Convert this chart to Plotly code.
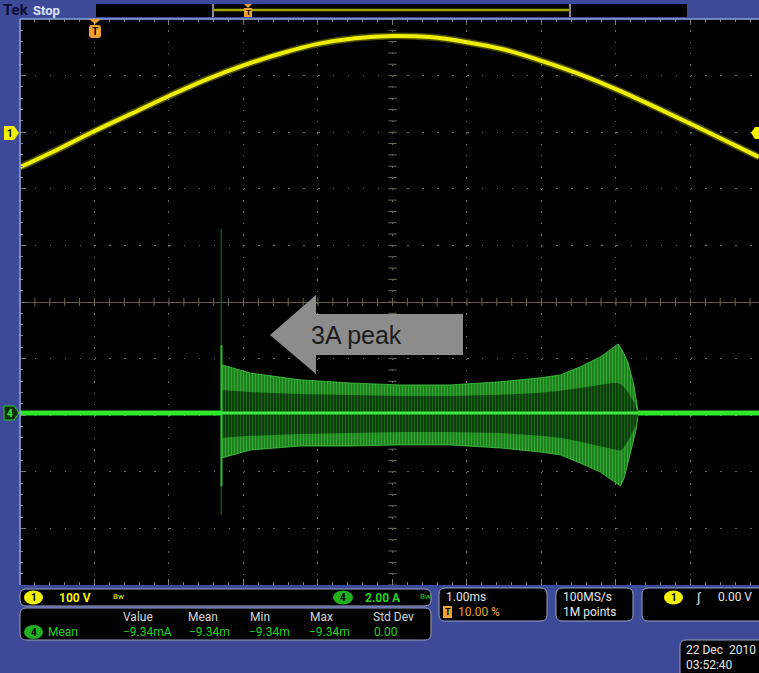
import numpy as np
import plotly.graph_objects as go

# ---------------- data ----------------
# Channel 1: line voltage (V), 100 V/div, position +3 div
ch1_t_ms = [-1.0, -0.5, 0.0, 0.5, 1.0, 1.5, 2.0, 2.5, 3.0, 3.5, 4.0, 4.5,
            5.0, 5.5, 6.0, 6.5, 7.0, 7.5, 8.0, 8.5, 8.92]
ch1_volts = [-62, -31, 2, 33, 64, 93, 118, 139, 156, 166, 170, 168,
             159, 146, 126, 103, 76, 46, 15, -17, -44]

# Channel 4: current (A), 2 A/div, position -1.96 div
ch4_idle_t_ms = [-1.0, 1.70, None, 7.30, 8.92]
ch4_idle_amps = [0.0, 0.0, None, 0.0, 0.0]
ch4_mid_t_ms = [1.70, 7.30]
ch4_mid_amps = [0.0, 0.0]

burst_up_t_ms = [1.71, 2.09, 2.76, 3.43, 4.10, 4.77, 5.45, 5.98, 6.25, 6.52,
                 6.79, 6.95, 7.03, 7.08, 7.16, 7.24, 7.30]
burst_up_amps = [1.70, 1.41, 1.17, 1.06, 0.99, 0.99, 1.10, 1.24, 1.34, 1.63,
                 1.98, 2.30, 2.44, 2.23, 1.80, 0.99, 0.0]
burst_lo_t_ms = [1.71, 2.09, 2.76, 3.43, 4.10, 4.77, 5.45, 5.98, 6.25, 6.52,
                 6.79, 6.95, 7.06, 7.11, 7.19, 7.27, 7.30]
burst_lo_amps = [-1.59, -1.31, -1.17, -1.17, -1.13, -1.13, -1.24, -1.38, -1.48, -1.77,
                 -2.09, -2.37, -2.58, -2.30, -1.48, -0.60, 0.0]
core_up_amps = [0.81, 0.74, 0.67, 0.64, 0.60, 0.60, 0.64, 0.71, 0.78, 0.88,
                0.99, 1.06, 1.06, 0.99, 0.74, 0.39, 0.0]
core_lo_amps = [-0.88, -0.81, -0.74, -0.71, -0.67, -0.67, -0.71, -0.81, -0.88, -1.02,
                -1.17, -1.27, -1.34, -1.20, -0.85, -0.42, 0.0]
spike_t_ms = [1.70, 1.70]
spike_amps = [6.5, -3.6]
spike_core_t_ms = [1.705, 1.705]
spike_core_amps = [2.4, -2.6]

# readouts
ch1_scale_text = "100 V"
ch4_scale_text = "2.00 A"
meas_headers = ["Value", "Mean", "Min", "Max", "Std Dev"]
meas_values = ["\u22129.34mA", "\u22129.34m", "\u22129.34m", "\u22129.34m", "0.00"]
timebase_text = "1.00ms"
trigpos_text = "10.00 %"
sample_texts = ["100MS/s", "1M points"]
trig_level_text = "0.00 V"
date_texts = ["22 Dec  2010", "03:52:40"]
note_text = "3A peak"

# ---------------- scale settings ----------------
T_DIV = 1.0        # ms/div
T_CENTER = 4.0     # ms at screen centre (trigger at 10%)
CH1_VDIV, CH1_POS = 100.0, 3.0
CH4_ADIV, CH4_POS = 2.0, -1.96


def xs(ts):
    return [None if t is None else (t - T_CENTER) / T_DIV for t in ts]


def y1(vs):
    return [None if v is None else CH1_POS + v / CH1_VDIV for v in vs]


def y4(vs):
    return [None if v is None else CH4_POS + v / CH4_ADIV for v in vs]


# pixel -> paper helpers for the instrument furniture
L, T, PW, PH = 20, 19, 739, 566


def X(px):
    return (px - L) / PW


def Y(py):
    return (T + PH - py) / PH


def rrect(x0, y0, x1, y1, r=4):
    return (f"M{X(x0+r)},{Y(y0)} L{X(x1-r)},{Y(y0)} Q{X(x1)},{Y(y0)} {X(x1)},{Y(y0+r)} "
            f"L{X(x1)},{Y(y1-r)} Q{X(x1)},{Y(y1)} {X(x1-r)},{Y(y1)} "
            f"L{X(x0+r)},{Y(y1)} Q{X(x0)},{Y(y1)} {X(x0)},{Y(y1-r)} "
            f"L{X(x0)},{Y(y0+r)} Q{X(x0)},{Y(y0)} {X(x0+r)},{Y(y0)} Z")


def poly(pts):
    return "M" + " L".join(f"{X(a)},{Y(b)}" for a, b in pts) + " Z"


fig = go.Figure()

# graticule centre-line tick marks
grat = np.round(np.arange(-5, 5.001, 0.2), 3)
fig.add_trace(go.Scatter(x=grat, y=[0] * len(grat), mode="markers", hoverinfo="skip",
                         marker=dict(symbol="line-ns", size=6, line=dict(width=1, color="#6e6656"))))
fig.add_trace(go.Scatter(x=[0] * len(grat), y=grat, mode="markers", hoverinfo="skip",
                         marker=dict(symbol="line-ew", size=6, line=dict(width=1, color="#6e6656"))))

# channel 4 burst envelope
fig.add_trace(go.Scatter(
    x=xs(burst_up_t_ms + burst_lo_t_ms[::-1]),
    y=y4(burst_up_amps + burst_lo_amps[::-1]),
    mode="lines", fill="toself", line=dict(width=1, color="rgba(70,215,70,0.7)"),
    fillcolor="#1f7f1f",
    fillpattern=dict(shape="|", fgcolor="#46dc46", bgcolor="#1c741c", size=3, solidity=0.5),
    hoverinfo="skip"))
fig.add_trace(go.Scatter(
    x=xs(burst_up_t_ms + burst_lo_t_ms[::-1]),
    y=y4(core_up_amps + core_lo_amps[::-1]),
    mode="lines", fill="toself", line=dict(width=0, color="rgba(0,0,0,0)"),
    fillcolor="#0e420e",
    fillpattern=dict(shape="|", fgcolor="#249a24", bgcolor="#0b340b", size=3, solidity=0.45),
    hoverinfo="skip"))
fig.add_trace(go.Scatter(x=xs(spike_t_ms), y=y4(spike_amps), mode="lines",
                         line=dict(width=1, color="#187a18"), hoverinfo="skip"))
fig.add_trace(go.Scatter(x=xs(spike_core_t_ms), y=y4(spike_core_amps), mode="lines",
                         line=dict(width=2, color="#2cb82c"), hoverinfo="skip"))
fig.add_trace(go.Scatter(x=xs(ch4_mid_t_ms), y=y4(ch4_mid_amps), mode="lines",
                         line=dict(width=3, color="#3ee83e"), hoverinfo="skip"))
fig.add_trace(go.Scatter(x=xs(ch4_idle_t_ms), y=y4(ch4_idle_amps), mode="lines",
                         line=dict(width=5, color="#2ee82e"), hoverinfo="skip"))

# channel 1 sine
fig.add_trace(go.Scatter(x=xs(ch1_t_ms), y=y1(ch1_volts), mode="lines",
                         line=dict(width=7, color="rgba(220,220,0,0.35)", shape="spline"),
                         hoverinfo="skip"))
fig.add_trace(go.Scatter(x=xs(ch1_t_ms), y=y1(ch1_volts), mode="lines",
                         line=dict(width=4, color="#eeee00", shape="spline"), hoverinfo="skip"))

FONT = "Roboto, 'Open Sans', sans-serif"
WHITE = "#e6e6e6"
YEL = "#f2f200"
GRN = "#22d022"
ORG = "#f0a030"
PANEL = dict(fillcolor="#000000", line=dict(color="#9aa3c4", width=1))

shapes = []
ann = []


def txt(x, y, s, color=WHITE, size=12, anchor="left", bold=False, family=FONT):
    ann.append(dict(x=X(x), y=Y(y), xref="paper", yref="paper", text=f"<b>{s}</b>" if bold else s,
                    showarrow=False, xanchor=anchor, yanchor="middle",
                    font=dict(color=color, size=size, family=family)))


def circle(cx, cy, rx, ry, fill, label, lcol="#000000"):
    shapes.append(dict(type="circle", xref="paper", yref="paper", x0=X(cx - rx), x1=X(cx + rx),
                       y0=Y(cy + ry), y1=Y(cy - ry), fillcolor=fill, line=dict(width=0)))
    txt(cx, cy, label, color=lcol, size=10, anchor="center", bold=True)


# border of screen
shapes.append(dict(type="line", xref="paper", yref="paper", x0=X(20), x1=X(759), y0=Y(19), y1=Y(19),
                   line=dict(color="#8ea4dc", width=1.5)))
shapes.append(dict(type="line", xref="paper", yref="paper", x0=X(20), x1=X(20), y0=Y(19), y1=Y(585),
                   line=dict(color="#8ea4dc", width=1.5)))

# top status bar
shapes.append(dict(type="rect", xref="paper", yref="paper", x0=X(96), x1=X(687), y0=Y(4), y1=Y(17),
                   fillcolor="#000000", line=dict(width=0)))
shapes.append(dict(type="line", xref="paper", yref="paper", x0=X(214), x1=X(569), y0=Y(10), y1=Y(10),
                   line=dict(color="#a6a600", width=2.5)))
for bx in (213, 570):
    shapes.append(dict(type="line", xref="paper", yref="paper", x0=X(bx), x1=X(bx), y0=Y(4), y1=Y(17),
                       line=dict(color="#b8b8b8", width=1.5)))
shapes.append(dict(type="path", xref="paper", yref="paper", path=poly([(244, 4), (252, 4), (248, 8)]),
                   fillcolor=ORG, line=dict(width=0)))
shapes.append(dict(type="rect", xref="paper", yref="paper", x0=X(244), x1=X(252), y0=Y(8), y1=Y(17),
                   fillcolor=ORG, line=dict(width=0)))
txt(248, 12.5, "T", color="#000000", size=8, anchor="center", bold=True)
txt(1, 10, "Tek", color="#0a0f35", size=15, bold=True)
txt(31, 10, "Stop", color="#dde4ff", size=13, bold=True)

# trigger position marker
shapes.append(dict(type="path", xref="paper", yref="paper", path=poly([(89, 19), (101, 19), (95, 24)]),
                   fillcolor=ORG, line=dict(width=0)))
shapes.append(dict(type="path", xref="paper", yref="paper", path=rrect(89, 25, 101, 38, 3),
                   fillcolor=ORG, line=dict(width=0)))
txt(95, 31.5, "T", color="#000000", size=10, anchor="center", bold=True)

# channel markers
shapes.append(dict(type="path", xref="paper", yref="paper",
                   path=poly([(4, 126), (14, 126), (19, 133), (14, 140), (4, 140)]),
                   fillcolor=YEL, line=dict(width=0)))
txt(10, 133, "1", color="#000000", size=10, anchor="center", bold=True)
shapes.append(dict(type="path", xref="paper", yref="paper",
                   path=poly([(4, 406), (14, 406), (19, 413), (14, 420), (4, 420)]),
                   fillcolor="#0b2f0b", line=dict(width=1, color="#2ec82e")))
txt(10, 413, "4", color="#3ee83e", size=10, anchor="center", bold=True)
shapes.append(dict(type="path", xref="paper", yref="paper",
                   path=poly([(759, 127), (755, 127), (751, 133), (755, 139), (759, 139)]),
                   fillcolor=YEL, line=dict(width=0)))

# annotation arrow
shapes.append(dict(type="path", xref="paper", yref="paper", layer="above",
                   path=poly([(270, 335), (316, 295), (316, 314), (463, 314), (463, 355),
                              (316, 355), (316, 374)]),
                   fillcolor="#8c8c8c", line=dict(width=0)))
txt(356, 335, note_text, color="#1c1c1c", size=25, anchor="center",
    family="'Liberation Sans', Arial, sans-serif")

# bottom panels
shapes.append(dict(type="path", xref="paper", yref="paper", path=rrect(20, 589, 431, 606, 6), **PANEL))
circle(33.5, 597.5, 9.5, 7, YEL, "1")
txt(57, 597.5, ch1_scale_text, color=YEL, size=12, bold=True)
txt(111, 596, "Bw", color=YEL, size=8)
circle(343, 597.5, 10, 7, "#20b020", "4")
txt(363, 597.5, ch4_scale_text, color=GRN, size=12, bold=True)
txt(418, 596, "Bw", color=GRN, size=8)

shapes.append(dict(type="path", xref="paper", yref="paper", path=rrect(20, 608, 431, 640, 6), **PANEL))
head_x = [138, 203, 260, 321, 393]
for hx, h in zip(head_x, meas_headers):
    txt(hx, 616.5, h, color="#d6d6d6", size=12, anchor="center")
circle(33.5, 632, 9.5, 7, "#20b020", "4")
txt(46, 632, "Mean", color=GRN, size=12)
val_x = [121, 187, 247, 307, 372]
for vx, v in zip(val_x, meas_values):
    txt(vx, 632, v, color=GRN, size=12)

shapes.append(dict(type="path", xref="paper", yref="paper", path=rrect(439, 588, 547, 621, 6), **PANEL))
txt(444, 597, timebase_text, color=WHITE, size=12)
shapes.append(dict(type="rect", xref="paper", yref="paper", x0=X(443), x1=X(452), y0=Y(606), y1=Y(618),
                   fillcolor=ORG, line=dict(width=0)))
txt(447.5, 612, "T", color="#000000", size=9, anchor="center", bold=True)
txt(456, 612, trigpos_text, color=ORG, size=12)

shapes.append(dict(type="path", xref="paper", yref="paper", path=rrect(556, 588, 633, 621, 6), **PANEL))
txt(561, 597, sample_texts[0], color=WHITE, size=12)
txt(561, 612, sample_texts[1], color=WHITE, size=12)

shapes.append(dict(type="path", xref="paper", yref="paper", path=rrect(642, 588, 766, 621, 6), **PANEL))
circle(673.5, 597.5, 9.5, 7, YEL, "1")
txt(694, 597, "\u222b", color=WHITE, size=13)
txt(716, 597, trig_level_text, color=WHITE, size=12)

shapes.append(dict(type="path", xref="paper", yref="paper", path=rrect(680, 640, 766, 680, 6), **PANEL))
txt(684, 650, date_texts[0], color=WHITE, size=12)
txt(684, 665, date_texts[1], color=WHITE, size=12)

fig.update_layout(
    width=759, height=673,
    margin=dict(l=L, r=0, t=T, b=673 - T - PH),
    paper_bgcolor="#3c4a98", plot_bgcolor="#000000",
    showlegend=False,
    shapes=shapes, annotations=ann,
    xaxis=dict(range=[-5, 4.92], dtick=1, tick0=0, showgrid=True, gridcolor="#6a6a6a",
               griddash="1.5px,9.82px", gridwidth=1, zeroline=False, showticklabels=False,
               ticks="inside", ticklen=6, tickcolor="#7a7a7a", mirror="ticks", showline=False,
               minor=dict(dtick=0.2, tick0=0, ticks="inside", ticklen=3, tickcolor="#7a7a7a",
                          showgrid=False),
               fixedrange=True),
    yaxis=dict(range=[-5, 5], dtick=1, tick0=0, showgrid=True, gridcolor="#6a6a6a",
               griddash="1.5px,13.4px", gridwidth=1, zeroline=True, zerolinecolor="#5f5747",
               zerolinewidth=1, showticklabels=False, ticks="inside", ticklen=6,
               tickcolor="#7a7a7a", mirror=False, showline=False,
               minor=dict(dtick=0.2, tick0=0, ticks="inside", ticklen=3, tickcolor="#7a7a7a",
                          showgrid=False),
               fixedrange=True),
)

fig.write_html("out.html", config={"displayModeBar": False},
               post_script="document.body.style.margin='0';document.body.style.overflow='hidden';")
